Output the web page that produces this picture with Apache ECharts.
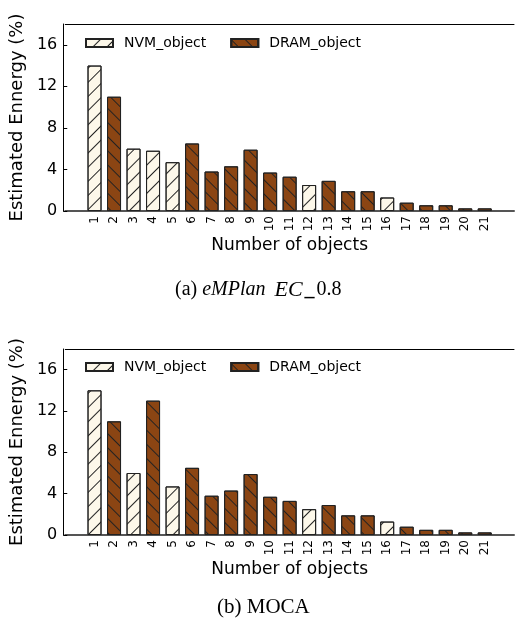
<!DOCTYPE html>
<html>
<head>
<meta charset="utf-8">
<script src="https://cdn.jsdelivr.net/npm/echarts@6/dist/echarts.min.js"></script>
<style>
  html, body { margin: 0; padding: 0; background: #fff; }
  #chart { width: 517px; height: 627px; }
</style>
</head>
<body>
<div id="chart"></div>
<script>
// ==============================================================
// data
// ==============================================================
var categories = ['1','2','3','4','5','6','7','8','9','10','11','12','13','14','15','16','17','18','19','20','21'];

// (a) eMPlan EC_0.8
var energyA = [14, 11, 6.0, 5.8, 4.7, 6.5, 3.8, 4.3, 5.9, 3.7, 3.3, 2.5, 2.9, 1.9, 1.9, 1.3, 0.8, 0.55, 0.55, 0.25, 0.25];
var placeA  = ['N','D','N','N','N','D','D','D','D','D','D','N','D','D','D','N','D','D','D','D','D'];

// (b) MOCA
var energyB = [14, 11, 6.0, 13, 4.7, 6.5, 3.8, 4.3, 5.9, 3.7, 3.3, 2.5, 2.9, 1.9, 1.9, 1.3, 0.8, 0.5, 0.5, 0.25, 0.25];
var placeB  = ['N','D','N','D','N','D','D','D','D','D','D','N','D','D','D','N','D','D','D','D','D'];

var yTicks = [0, 4, 8, 12, 16];

// ==============================================================
// helpers
// ==============================================================
var font = 'DejaVu Sans';
var axisCats = [''].concat(categories, ['']);

function pick(values, place, key) {
    return [''].concat(values.map(function (v, i) { return place[i] === key ? v : '-'; }), ['']);
}

var nvmStyle = {
    color: '#fdf8ea', borderColor: '#222', borderWidth: 1,
    decal: { symbol: 'rect', symbolSize: 1, color: '#222', dashArrayX: [1, 0], dashArrayY: [1, 8.5], rotation: -Math.PI / 4 }
};
var dramStyle = {
    color: '#8b4513', borderColor: '#222', borderWidth: 1,
    decal: { symbol: 'rect', symbolSize: 1, color: '#222', dashArrayX: [1, 0], dashArrayY: [1, 8.5], rotation: Math.PI / 4 }
};

function xAxes(gridIndex) {
    return [{
        type: 'category', gridIndex: gridIndex, data: axisCats,
        name: 'Number of objects', nameLocation: 'middle', nameGap: 26,
        nameTextStyle: { fontFamily: font, fontSize: 17, color: '#000' },
        axisLine: { lineStyle: { color: '#555', width: 2 } },
        axisTick: { show: false },
        axisLabel: { rotate: 90, interval: 0, margin: 5, fontFamily: font, fontSize: 12, color: '#000' }
    }, {
        type: 'category', gridIndex: gridIndex, position: 'top', data: axisCats,
        axisLine: { lineStyle: { color: '#000', width: 1 } },
        axisTick: { inside: true, length: 4, alignWithLabel: true, lineStyle: { color: '#000' },
            interval: function (i, v) { return v !== ''; } },
        axisLabel: { show: false }
    }];
}

function yAxis(gridIndex) {
    return {
        type: 'value', gridIndex: gridIndex, min: 0, max: 18, interval: 4, offset: 2,
        name: 'Estimated Ennergy (%)', nameLocation: 'middle', nameGap: 30,
        nameTextStyle: { fontFamily: font, fontSize: 18, color: '#000' },
        axisLine: { show: true, lineStyle: { color: '#000', width: 1 } },
        axisTick: { show: true, inside: true, length: 4, lineStyle: { color: '#000' } },
        axisLabel: { margin: 6, fontFamily: font, fontSize: 16, color: '#000', showMaxLabel: false,
            formatter: function (v) { return yTicks.indexOf(v) >= 0 ? v : ''; } },
        splitLine: { show: false }
    };
}

function barSeries(name, data, style, axisIndex) {
    return {
        name: name, type: 'bar', data: data,
        xAxisIndex: axisIndex * 2, yAxisIndex: axisIndex,
        barWidth: 14, barGap: '-100%',
        itemStyle: style, emphasis: { disabled: true }
    };
}

function legend(top) {
    return {
        left: 80, top: top, icon: 'rect', itemWidth: 27, itemHeight: 8, itemGap: 24,
        textStyle: { fontFamily: font, fontSize: 14, color: '#000', padding: [0, 0, 0, 6] },
        data: ['NVM_object', 'DRAM_object']
    };
}

// ==============================================================
// chart option
// ==============================================================
var chart = echarts.init(document.getElementById('chart'));

var serif = 'Liberation Serif';
var option = {
    backgroundColor: '#fff',
    animation: false,
    legend: [legend(31), legend(355)],
    grid: [
        { left: 60, right: 3, top: 24, height: 187 },
        { left: 60, right: 3, top: 349, height: 186 }
    ],
    xAxis: xAxes(0).concat(xAxes(1)),
    yAxis: [yAxis(0), yAxis(1)],
    series: [
        barSeries('NVM_object', pick(energyA, placeA, 'N'), nvmStyle, 0),
        barSeries('DRAM_object', pick(energyA, placeA, 'D'), dramStyle, 0),
        barSeries('NVM_object', pick(energyB, placeB, 'N'), nvmStyle, 1),
        barSeries('DRAM_object', pick(energyB, placeB, 'D'), dramStyle, 1)
    ],
    graphic: [{
        type: 'text', left: 175, top: 279,
        style: {
            text: '{r|(a) }{i|eMPlan }{e|EC}{b|_}{r|0.8}',
            rich: {
                r: { fontFamily: serif, fontSize: 20, fill: '#000' },
                i: { fontFamily: serif, fontStyle: 'italic', fontSize: 20, fill: '#000' },
                e: { fontFamily: serif, fontStyle: 'italic', fontSize: 22, fill: '#000', padding: [0, 2, 0, 4] },
                b: { fontFamily: serif, fontWeight: 'bold', fontSize: 20, fill: '#000', padding: [0, 2, 0, 0] }
            }
        }
    }, {
        type: 'text', left: 217, top: 597,
        style: { text: '(b) MOCA', fontFamily: serif, fontSize: 21, fill: '#000' }
    }]
};

chart.setOption(option, true);
</script>
</body>
</html>
